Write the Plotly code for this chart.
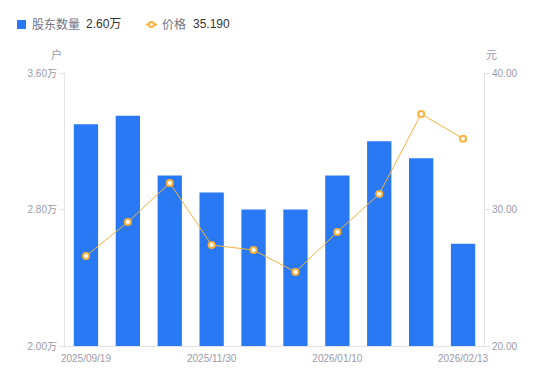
import plotly.graph_objects as go

dates = ["2025/09/19", "2025/10/31", "2025/11/14", "2025/11/30", "2025/12/10",
         "2025/12/31", "2026/01/10", "2026/01/20", "2026/01/31", "2026/02/13"]
holders_wan = [3.30, 3.35, 3.00, 2.90, 2.80, 2.80, 3.00, 3.20, 3.10, 2.60]
price = [26.59, 29.08, 31.94, 27.40, 27.03, 25.42, 28.35, 31.14, 37.00, 35.19]
left_ticks = [2.0, 2.8, 3.6]
right_ticks = [20, 30, 40]
x_tick_idx = [0, 3, 6, 9]

BLUE = "#2979f5"
ORANGE = "#f9b23c"
GRAY = "#9a9aaa"
AXIS = "#e3e3e6"
FONT = "Liberation Sans, Noto Sans CJK SC, sans-serif"

# page-coordinate plot box (body has 8px margin)
PX0, PX1, PY0, PY1 = 65, 484, 73, 346


def px(x):
    return (x - PX0) / (PX1 - PX0)


def py(y):
    return (PY1 - y) / (PY1 - PY0)


fig = go.Figure()
fig.add_trace(go.Bar(x=dates, y=holders_wan, marker=dict(color=BLUE, line=dict(width=0)),
                     width=0.58, name="股东数量", yaxis="y"))
fig.add_trace(go.Scatter(x=dates, y=price, mode="lines+markers", name="价格", yaxis="y2",
                         line=dict(color=ORANGE, width=1),
                         marker=dict(size=6, color="white", line=dict(color=ORANGE, width=2))))

fig.update_layout(
    width=542, height=373,
    margin=dict(l=PX0 - 8, r=550 - PX1 - 8 + 8, t=PY0 - 8, b=381 - PY1 - 8 + 8),
    paper_bgcolor="white", plot_bgcolor="white",
    showlegend=False,
    font=dict(family=FONT, size=10, color=GRAY),
    xaxis=dict(type="category", tickvals=[dates[i] for i in x_tick_idx],
               ticktext=[dates[i] for i in x_tick_idx], showgrid=False,
               showline=True, linecolor=AXIS, linewidth=1, ticks="",
               ticklabelstandoff=3,
               tickfont=dict(size=10, color=GRAY), range=[-0.5, len(dates) - 0.5]),
    yaxis=dict(range=[2.0, 3.6], tickvals=left_ticks,
               ticktext=[f"{v:.2f}万" for v in left_ticks], showgrid=False,
               showline=True, linecolor=AXIS, linewidth=1, ticks="outside",
               ticklen=5, tickcolor=AXIS, tickfont=dict(size=10, color=GRAY), zeroline=False),
    yaxis2=dict(range=[20, 40], tickvals=right_ticks,
                ticktext=[f"{v:.2f}" for v in right_ticks], overlaying="y", side="right",
                showgrid=False, showline=True, linecolor=AXIS, linewidth=1,
                ticks="outside", ticklen=5, tickcolor=AXIS,
                tickfont=dict(size=10, color=GRAY), zeroline=False),
)

# unit labels
fig.add_annotation(text="户", xref="paper", yref="paper", x=px(64), y=py(63),
                   showarrow=False, xanchor="right", yanchor="bottom",
                   font=dict(size=11, color=GRAY, family=FONT))
fig.add_annotation(text="元", xref="paper", yref="paper", x=px(484), y=py(63),
                   showarrow=False, xanchor="left", yanchor="bottom",
                   font=dict(size=11, color=GRAY, family=FONT))

# custom legend
LY = 24.5
fig.add_shape(type="rect", xref="paper", yref="paper",
              x0=px(17), x1=px(26), y0=py(LY + 4.5), y1=py(LY - 4.5),
              fillcolor=BLUE, line=dict(width=0))
fig.add_annotation(text="股东数量", xref="paper", yref="paper", x=px(30),
                   y=py(LY), showarrow=False, xanchor="left", yanchor="middle",
                   font=dict(size=12, color="#73737f", family=FONT))
fig.add_annotation(text=f"{holders_wan[-1]:.2f}万", xref="paper", yref="paper",
                   x=px(84), y=py(LY), showarrow=False,
                   xanchor="left", yanchor="middle",
                   font=dict(size=12, color="#333333", family=FONT))
fig.add_shape(type="line", xref="paper", yref="paper",
              x0=px(146), x1=px(157), y0=py(LY), y1=py(LY),
              line=dict(color=ORANGE, width=2))
fig.add_shape(type="circle", xref="paper", yref="paper",
              x0=px(149), x1=px(154), y0=py(LY + 2.5), y1=py(LY - 2.5),
              fillcolor="white", line=dict(color=ORANGE, width=2))
fig.add_annotation(text="价格", xref="paper", yref="paper", x=px(160),
                   y=py(LY), showarrow=False, xanchor="left", yanchor="middle",
                   font=dict(size=12, color="#73737f", family=FONT))
fig.add_annotation(text=f"{price[-1]:.3f}", xref="paper", yref="paper",
                   x=px(191), y=py(LY), showarrow=False,
                   xanchor="left", yanchor="middle",
                   font=dict(size=12, color="#333333", family=FONT))

fig.write_html("out.html")
